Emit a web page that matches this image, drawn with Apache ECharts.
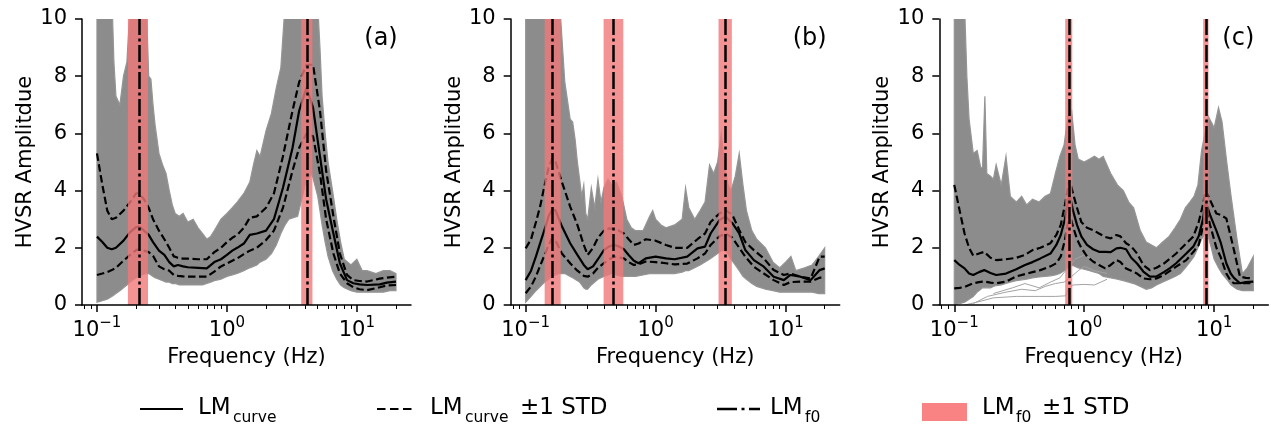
<!DOCTYPE html>
<html><head><meta charset="utf-8">
<script src="https://cdn.jsdelivr.net/npm/echarts@6/dist/echarts.min.js"></script>
<style>html,body{margin:0;padding:0;background:#fff}#c{width:1271px;height:430px}</style>
</head><body><div id="c"></div><script>
// ---------- Panel (a) ----------
const envFreqA = [0.1,0.11,0.12,0.13,0.135,0.14,0.15,0.16,0.17,0.18,0.2,0.22,0.24,0.25,0.26,0.27,0.28,0.3,0.32,0.34,0.36,0.38,0.4,0.43,0.46,0.5,0.55,0.6,0.65,0.7,0.75,0.8,0.9,1.0,1.1,1.2,1.35,1.5,1.6,1.7,1.8,2.0,2.2,2.4,2.6,2.8,3.0,3.5,4.0,4.5,5.0,5.2,5.4,5.7,6.0,6.5,7.0,7.5,8.0,9.0,10,11,12,14,16,18,20];
const envUpperA = [12,12,12,11,8.5,7.3,7.0,8.0,8.5,10.5,11,11,10.5,8.0,7.9,7.0,6.3,5.3,4.9,4.6,4.0,3.5,3.2,3.1,3.2,2.9,3.0,2.7,2.5,2.3,2.4,2.6,3.0,3.2,3.4,3.6,3.9,4.3,4.9,5.4,5.2,6.1,6.7,7.6,8.3,10.5,11,11,11,11,10.5,9.0,7.3,6.0,5.0,4.0,3.0,2.2,1.6,1.4,1.6,1.2,1.2,1.1,1.2,1.2,1.1];
const envLowerA = [0.1,0.15,0.2,0.3,0.35,0.4,0.5,0.6,0.7,0.8,0.95,1.05,1.1,1.1,1.05,1.0,0.95,0.9,0.85,0.8,0.8,0.75,0.75,0.7,0.7,0.7,0.7,0.7,0.7,0.75,0.8,0.85,0.9,1.0,1.05,1.1,1.2,1.3,1.35,1.4,1.5,1.6,1.8,2.1,2.5,2.8,3.0,3.1,4.2,4.6,3.8,3.3,2.8,2.2,1.7,1.2,0.9,0.7,0.6,0.5,0.45,0.45,0.45,0.45,0.45,0.5,0.5];
const freqA = [0.1,0.11,0.12,0.13,0.14,0.16,0.18,0.2,0.21,0.23,0.25,0.27,0.3,0.33,0.36,0.39,0.42,0.46,0.5,0.6,0.7,0.8,0.9,1.0,1.1,1.2,1.35,1.5,1.7,2.0,2.3,2.7,3.2,3.6,4.1,4.6,5.2,5.8,6.6,7.4,8.4,9.4,10.5,12,15,17,20];
const meanA = [2.39,2.2,2.0,1.95,2.0,2.25,2.55,2.72,2.75,2.6,2.45,2.2,1.9,1.75,1.5,1.35,1.4,1.35,1.32,1.3,1.28,1.5,1.6,1.75,1.9,2.0,2.15,2.45,2.5,2.6,3.0,4.1,5.5,6.8,7.6,6.9,5.2,3.7,2.5,1.46,0.87,0.76,0.72,0.7,0.72,0.78,0.82];
const upperA = [5.3,4.2,3.3,3.0,3.05,3.3,3.6,3.9,3.9,3.7,3.4,3.0,2.6,2.3,2.0,1.7,1.65,1.62,1.62,1.6,1.6,1.85,2.0,2.2,2.35,2.45,2.7,3.05,3.1,3.4,3.9,5.2,6.8,7.8,8.4,8.4,6.8,4.7,3.1,1.8,1.05,0.87,0.84,0.82,0.92,0.96,0.99];
const lowerA = [1.05,1.1,1.15,1.22,1.3,1.55,1.75,1.92,1.95,1.9,1.85,1.72,1.35,1.25,1.2,1.05,1.02,1.0,0.99,0.99,0.99,1.17,1.35,1.45,1.55,1.63,1.78,1.9,2.0,2.27,2.6,3.4,4.7,5.5,6.0,5.9,4.6,3.0,1.8,1.1,0.76,0.62,0.55,0.52,0.62,0.68,0.7];
const f0A = [0.207, 4.12];
const f0LowA = [0.173, 3.73];
const f0HighA = [0.247, 4.55];

// ---------- Panel (b) ----------
const envFreqB = [0.1,0.11,0.12,0.14,0.16,0.18,0.2,0.22,0.23,0.24,0.25,0.26,0.27,0.28,0.29,0.3,0.32,0.34,0.36,0.38,0.4,0.43,0.46,0.5,0.55,0.6,0.65,0.7,0.8,0.9,0.95,1.0,1.1,1.2,1.4,1.6,1.7,1.8,2.0,2.2,2.4,2.6,2.8,3.0,3.2,3.4,3.6,3.8,4.1,4.4,4.7,5.0,5.5,6.0,7.0,8.0,9.0,10,11,12,14,16,18,20];
const envUpperB = [11,11,11,11,11,11,7.8,6.5,6.4,5.8,5.0,4.4,3.8,4.2,3.2,3.0,4.1,3.4,4.4,3.6,4.1,4.4,4.2,4.3,3.8,3.0,2.7,2.6,2.6,3.1,3.3,3.0,2.8,2.7,2.8,3.0,4.1,3.4,3.0,3.3,3.6,4.9,4.6,5.0,6.0,4.9,4.2,4.0,4.5,5.3,4.2,3.3,2.6,2.3,2.0,1.5,1.3,1.5,1.7,1.2,1.3,1.4,1.7,2.0];
const envLowerB = [0.1,0.3,0.5,0.8,1.0,1.1,1.1,1.0,0.95,0.9,0.85,0.8,0.7,0.6,0.55,0.55,0.7,0.8,0.9,0.95,1.0,1.05,1.1,1.05,1.0,1.0,1.0,1.0,1.05,1.1,1.1,1.1,1.1,1.1,1.1,1.15,1.2,1.2,1.3,1.4,1.5,1.6,1.7,1.8,1.9,1.9,1.8,1.6,1.4,1.2,1.0,0.9,0.75,0.65,0.55,0.5,0.45,0.45,0.45,0.45,0.45,0.45,0.4,0.4];
const freqB = [0.1,0.11,0.12,0.13,0.14,0.15,0.16,0.17,0.19,0.22,0.25,0.28,0.3,0.33,0.36,0.4,0.44,0.48,0.52,0.57,0.62,0.68,0.74,0.84,1.0,1.2,1.4,1.75,2.1,2.4,2.65,3.1,3.45,3.9,4.4,4.9,5.7,6.8,8.1,9.7,10.9,13,15.6,18.3,20];
const meanB = [0.87,1.2,1.7,2.2,2.65,3.1,3.35,3.3,2.75,2.16,1.75,1.4,1.25,1.35,1.6,1.92,2.05,2.1,2.05,1.95,1.75,1.55,1.46,1.63,1.69,1.63,1.6,1.69,1.98,2.04,2.5,2.97,3.09,2.86,2.5,1.92,1.57,1.34,0.99,0.87,1.05,0.99,0.87,1.22,1.28];
const upperB = [1.98,2.3,2.9,3.5,4.2,4.8,5.13,5.0,4.3,3.44,2.8,2.1,1.75,2.0,2.35,2.6,2.68,2.65,2.6,2.5,2.3,2.1,2.15,2.3,2.25,2.1,2.0,2.0,2.3,2.5,2.9,3.2,3.32,3.15,2.62,2.2,1.92,1.63,1.22,1.05,1.1,0.99,0.93,1.69,1.69];
const lowerB = [0.41,0.65,1.0,1.4,1.75,2.1,2.33,2.25,1.8,1.46,1.2,1.02,0.99,1.1,1.3,1.46,1.6,1.69,1.66,1.63,1.5,1.4,1.42,1.52,1.5,1.46,1.42,1.45,1.63,1.8,2.1,2.4,2.5,2.35,2.0,1.69,1.34,1.1,0.87,0.7,0.8,0.82,0.82,0.95,0.99];
const f0B = [0.162, 0.47, 3.43];
const f0LowB = [0.14, 0.398, 3.05];
const f0HighB = [0.186, 0.564, 3.86];

// ---------- Panel (c) ----------
const envFreqC = [0.1,0.11,0.12,0.125,0.13,0.14,0.15,0.16,0.165,0.172,0.178,0.19,0.2,0.21,0.23,0.25,0.27,0.3,0.33,0.36,0.4,0.45,0.5,0.55,0.6,0.65,0.7,0.75,0.8,0.85,0.9,1.0,1.1,1.2,1.3,1.4,1.6,1.8,2.0,2.2,2.4,2.7,3.0,3.3,3.6,4.0,4.5,5.0,5.5,6.0,6.5,7.0,7.5,8.0,8.5,9.0,9.5,10,10.8,11.5,12.5,13.5,15,16.5,18,20];
const envUpperC = [11,11,10.5,8.0,6.5,5.3,5.4,4.8,4.8,7.3,4.6,4.5,4.4,4.9,4.2,5.2,3.8,3.6,3.8,3.5,3.7,3.6,3.8,3.9,4.6,5.2,5.6,6.6,6.8,5.6,5.1,5.0,5.1,5.2,5.1,5.2,4.6,4.2,4.0,3.6,3.4,2.6,2.2,2.1,2.0,2.2,2.4,2.7,3.0,3.4,3.6,3.8,4.2,5.4,6.0,6.6,6.4,6.2,6.9,6.4,5.0,3.8,2.3,1.1,1.3,1.7];
const envLowerC = [0.0,0.05,0.1,0.15,0.2,0.3,0.45,0.55,0.6,0.6,0.6,0.6,0.65,0.68,0.7,0.75,0.8,0.85,0.88,0.9,0.95,0.98,1.0,1.02,1.05,1.1,1.2,1.3,1.4,1.35,1.3,1.25,1.2,1.15,1.1,1.0,0.95,0.9,0.85,0.8,0.75,0.65,0.55,0.6,0.7,0.8,0.9,1.0,1.1,1.3,1.5,1.7,2.0,2.3,2.5,2.4,2.0,1.6,1.3,1.1,0.9,0.7,0.55,0.5,0.5,0.5];
const outFreqC1 = [0.12,0.15,0.2,0.3,0.45,0.6,0.72,0.76,0.82,1.0,1.2,1.5];
const outValC1 = [0.0,0.1,0.25,0.3,0.3,0.3,0.32,0.6,0.7,0.72,0.7,0.9];
const outFreqC2 = [0.14,0.18,0.25,0.33,0.42,0.5,0.6,0.7,0.8,0.9,1.0,1.2,1.5];
const outValC2 = [0.05,0.3,0.45,0.55,0.5,0.65,0.75,0.8,1.0,1.2,1.35,1.2,1.1];
const outFreqC3 = [0.2,0.28,0.35,0.45,0.55,0.65,0.75,0.85,1.0,1.2,1.4];
const outValC3 = [0.4,0.6,0.75,0.6,0.8,0.95,1.3,1.6,1.75,1.55,1.3];
const freqC = [0.1,0.11,0.12,0.13,0.14,0.155,0.17,0.19,0.21,0.25,0.3,0.35,0.4,0.46,0.55,0.61,0.66,0.71,0.77,0.82,0.88,0.95,1.05,1.17,1.3,1.45,1.6,1.77,1.9,2.1,2.3,2.55,2.85,3.2,3.6,4.1,4.6,5.1,6.1,6.9,7.6,8.2,8.6,9.3,10.4,11.2,12.4,13.4,14.2,15.8,17.5,20];
const meanC = [1.57,1.4,1.28,1.1,1.05,1.15,1.22,1.12,1.05,1.1,1.25,1.4,1.5,1.63,1.8,2.1,2.45,3.0,3.9,3.3,2.8,2.4,2.1,1.95,1.86,1.86,1.85,1.98,2.0,1.95,1.65,1.45,1.17,0.99,1.0,1.15,1.3,1.46,1.8,2.04,2.4,3.0,3.6,3.15,2.6,2.2,1.46,1.1,0.95,0.76,0.8,0.82];
const upperC = [4.2,3.3,2.5,2.0,1.72,1.8,1.86,1.65,1.57,1.6,1.65,1.75,1.92,2.0,2.16,2.45,2.8,3.5,4.37,3.9,3.4,2.9,2.7,2.62,2.5,2.38,2.33,2.45,2.4,2.16,2.05,1.8,1.4,1.22,1.3,1.45,1.63,1.8,2.15,2.39,2.9,3.5,4.0,3.67,3.2,3.15,3.03,2.4,1.92,0.99,0.95,0.93];
const lowerC = [0.58,0.6,0.63,0.7,0.76,0.8,0.82,0.78,0.76,0.82,1.0,1.08,1.15,1.22,1.35,1.46,1.7,2.27,3.2,2.74,2.3,2.0,1.7,1.52,1.4,1.28,1.4,1.57,1.5,1.28,1.2,1.1,0.93,0.9,0.93,1.05,1.2,1.34,1.57,1.85,2.1,2.74,3.44,2.8,2.0,1.69,1.1,0.85,0.76,0.76,0.76,0.76];
const f0C = [0.767, 8.63];
const f0LowC = [0.714, 8.23];
const f0HighC = [0.809, 9.05];

// ---------- Axes ticks ----------
const majorTicks = [0.1, 1, 10];
const minorTicks = [0.08,0.09,0.2,0.3,0.4,0.5,0.6,0.7,0.8,0.9,2,3,4,5,6,7,8,9,20];
const panelLabels = ['(a)', '(b)', '(c)'];

// ---------- Build chart ----------
const FONT = '"DejaVu Sans"';
const XMIN = 0.0767, XMAX = 26.1;
const GRAY = '#8c8c8c';
const BAND = 'rgba(240,120,120,0.8)';
const zip = (xs, ys) => xs.map((x, i) => [x, ys[i]]);

const panels = [
  {left: 82, envF: envFreqA, envLo: envLowerA, envHi: envUpperA, f: freqA, mean: meanA, up: upperA, lo: lowerA, f0: f0A, f0Lo: f0LowA, f0Hi: f0HighA, extras: []},
  {left: 510.7, envF: envFreqB, envLo: envLowerB, envHi: envUpperB, f: freqB, mean: meanB, up: upperB, lo: lowerB, f0: f0B, f0Lo: f0LowB, f0Hi: f0HighB, extras: []},
  {left: 939.3, envF: envFreqC, envLo: envLowerC, envHi: envUpperC, f: freqC, mean: meanC, up: upperC, lo: lowerC, f0: f0C, f0Lo: f0LowC, f0Hi: f0HighC,
   extras: [[outFreqC1, outValC1], [outFreqC2, outValC2], [outFreqC3, outValC3]]}
];

const sup = e => (e < 0 ? '\u2212' + (-e) : '' + e);
const labelFmt = v => {
  const e = Math.round(Math.log10(v));
  return '{b|10}{s|' + sup(e) + '}';
};

// envelope polygon drawn through the axes: upper edge forward, lower edge back
const envelopeItem = (params, api) => {
  if (params.dataIndexInside !== 0) return null;
  const n = params.dataInsideLength;
  const top = [], bot = [];
  for (let k = 0; k < n; k++) {
    const f = api.value(0, k);
    top.push(api.coord([f, api.value(2, k)]));
    bot.push(api.coord([f, api.value(1, k)]));
  }
  return {type: 'polygon', shape: {points: top.concat(bot.reverse())},
    style: {fill: GRAY, stroke: '#959595', lineWidth: 1.2}};
};

const AX_FONT = 21;
const grids = [], xAxes = [], yAxes = [], series = [], graphic = [];
panels.forEach((p, i) => {
  grids.push({left: p.left, top: 19, width: 329, height: 286, containLabel: false});
  xAxes.push({
    gridIndex: i, type: 'log', logBase: 10, min: XMIN, max: XMAX, position: 'bottom', z: 10,
    axisLine: {show: true, onZero: false, lineStyle: {color: '#000', width: 1.5}},
    axisTick: {show: true, customValues: majorTicks, length: 7, lineStyle: {color: '#000', width: 1.5}},
    axisLabel: {show: true, customValues: majorTicks, formatter: labelFmt, margin: 11,
      rich: {
        b: {fontSize: AX_FONT, fontFamily: FONT, color: '#000'},
        s: {fontSize: 15, fontFamily: FONT, color: '#000', padding: [0, 0, 14, 0]}
      }},
    splitLine: {show: false}, minorTick: {show: false},
    name: 'Frequency (Hz)', nameLocation: 'middle', nameGap: 42,
    nameTextStyle: {fontFamily: FONT, fontSize: AX_FONT, color: '#000'}
  });
  xAxes.push({
    gridIndex: i, type: 'log', logBase: 10, min: XMIN, max: XMAX, position: 'bottom', z: 10,
    axisLine: {show: false},
    axisTick: {show: true, customValues: minorTicks, length: 4, lineStyle: {color: '#000', width: 1}},
    axisLabel: {show: false}, splitLine: {show: false}
  });
  yAxes.push({
    gridIndex: i, type: 'value', min: 0, max: 10, interval: 2, z: 10,
    axisLine: {show: true, onZero: false, lineStyle: {color: '#000', width: 1.5}},
    axisTick: {show: true, length: 7, lineStyle: {color: '#000', width: 1.5}},
    axisLabel: {fontSize: AX_FONT, fontFamily: FONT, color: '#000', margin: 15},
    splitLine: {show: false},
    name: 'HVSR Amplitdue', nameLocation: 'middle', nameGap: 46, nameRotate: 90,
    nameTextStyle: {fontFamily: FONT, fontSize: AX_FONT, color: '#000'}
  });
  const xi = 2 * i, yi = i;
  series.push({
    type: 'custom', xAxisIndex: xi, yAxisIndex: yi, silent: true, z: 1, clip: true,
    data: p.envF.map((f, k) => [f, p.envLo[k], p.envHi[k]]),
    encode: {x: 0, y: [1, 2]},
    renderItem: envelopeItem
  });
  p.extras.forEach(ex => series.push({
    type: 'line', xAxisIndex: xi, yAxisIndex: yi, symbol: 'none', silent: true, z: 2,
    data: zip(ex[0], ex[1]), lineStyle: {color: '#a3a3a3', width: 1}
  }));
  [[p.up, 'dash'], [p.lo, 'dash'], [p.mean, 'solid']].forEach(([vals, kind]) => series.push({
    type: 'line', xAxisIndex: xi, yAxisIndex: yi, symbol: 'none', silent: true, z: 3,
    data: zip(p.f, vals),
    lineStyle: {color: '#000', width: 2.2, type: kind === 'dash' ? [7.5, 3.5] : 'solid'}
  }));
  series.push({
    type: 'line', xAxisIndex: xi, yAxisIndex: yi, data: [], silent: true, z: 4,
    markArea: {silent: true, z: 4, itemStyle: {color: BAND},
      data: p.f0Lo.map((lo, k) => [{xAxis: lo}, {xAxis: p.f0Hi[k]}])}
  });
  series.push({
    type: 'line', xAxisIndex: xi, yAxisIndex: yi, data: [], silent: true, z: 5,
    markLine: {silent: true, z: 5, symbol: ['none', 'none'], label: {show: false},
      lineStyle: {color: '#000', width: 2.5, type: [17, 3.5, 3, 3.5]},
      emphasis: {disabled: true},
      data: p.f0.map(v => ({xAxis: v}))}
  });
  graphic.push({type: 'text', x: p.left + 299, y: 39, z: 100,
    style: {text: panelLabels[i], font: '24px ' + FONT, fill: '#000', align: 'center', verticalAlign: 'middle'}});
});

// legend (drawn as graphic)
const txt = (x, y, s, size) => ({type: 'text', x: x, y: y, z: 100,
  style: {text: s, font: size + 'px ' + FONT, fill: '#000', align: 'left', verticalAlign: 'middle'}});
graphic.push(
  {type: 'line', z: 100, shape: {x1: 140, y1: 409, x2: 183, y2: 409}, style: {stroke: '#000', lineWidth: 2.2}},
  txt(198, 408.5, 'LM', 23), txt(233, 417.5, 'curve', 15.5),
  {type: 'line', z: 100, shape: {x1: 377, y1: 409, x2: 416, y2: 409}, style: {stroke: '#000', lineWidth: 2.2, lineDash: [8.5, 4.5]}},
  txt(430, 408.5, 'LM', 23), txt(465, 417.5, 'curve', 15.5), txt(520, 408.5, '\u00b11 STD', 23),
  {type: 'line', z: 100, shape: {x1: 717, y1: 409, x2: 760, y2: 409}, style: {stroke: '#000', lineWidth: 2.5, lineDash: [20, 4.5, 3, 4.5]}},
  txt(770, 408.5, 'LM', 23), txt(805, 417.5, 'f0', 15.5),
  {type: 'rect', z: 100, shape: {x: 922, y: 403, width: 45, height: 18}, style: {fill: '#f98282'}},
  txt(982, 408.5, 'LM', 23), txt(1016, 417.5, 'f0', 15.5), txt(1042, 408.5, '\u00b11 STD', 23)
);

const chart = echarts.init(document.getElementById('c'), null, {renderer: 'canvas'});
chart.setOption({
  animation: false,
  backgroundColor: '#fff',
  grid: grids, xAxis: xAxes, yAxis: yAxes, series: series, graphic: graphic
});
</script></body></html>
